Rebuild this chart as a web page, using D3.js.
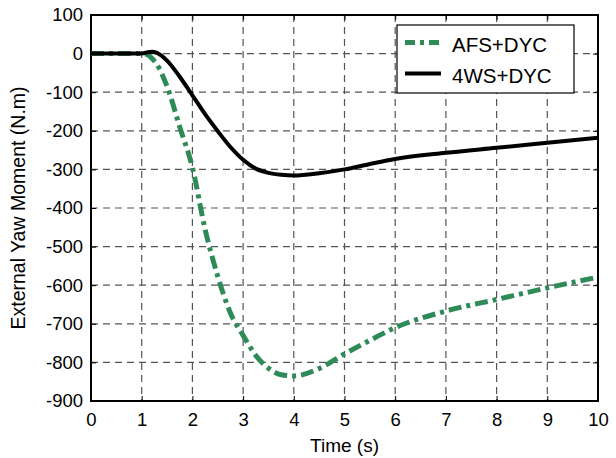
<!DOCTYPE html>
<html>
<head>
<meta charset="utf-8">
<script src="https://cdn.jsdelivr.net/npm/d3@7"></script>
<style>
  body { margin: 0; background: #fff; }
  text { font-family: "Liberation Sans", Arial, sans-serif; }
</style>
</head>
<body>
<svg id="chart"></svg>
<script>
const width = 616;
const height = 458;
const margin = { top: 15, right: 18, bottom: 57, left: 91 };

// values
const time = [0, 1, 1.1, 1.2, 1.3, 1.5, 1.75, 2, 2.25, 2.5, 2.75, 3, 3.25, 3.5, 3.75, 4, 4.5, 5, 5.5, 6, 7, 8, 9, 10];
const afsDyc = [0, 0, -2, -12, -28, -85, -190, -295, -455, -577, -672, -730, -782, -815, -832, -835, -816, -778, -743, -710, -667, -637, -607, -579];
const wsDyc = [0, 0, 3, 5, 2, -18, -60, -108, -157, -201, -242, -275, -298, -309, -314, -316, -310, -300, -286, -273, -257, -244, -231, -218];

const xTicks = d3.range(0, 11, 1);
const yTicks = d3.range(-900, 101, 100);

const series = [
    { name: "AFS+DYC", values: afsDyc, color: "#2e8b57", dash: "13,5,4,5", width: 5 },
    { name: "4WS+DYC", values: wsDyc, color: "#000", dash: null, width: 4 }
];

const svg = d3.select("#chart")
    .attr("width", width)
    .attr("height", height);

const x = d3.scaleLinear().domain([0, 10]).range([margin.left, width - margin.right]);
const y = d3.scaleLinear().domain([-900, 100]).range([height - margin.bottom, margin.top]);

// grid
svg.append("g")
    .selectAll("line")
    .data(xTicks.slice(1, -1))
    .enter().append("line")
    .attr("x1", d => x(d)).attr("x2", d => x(d))
    .attr("y1", y(100)).attr("y2", y(-900))
    .attr("stroke", "#555").attr("stroke-width", 1.2).attr("stroke-dasharray", "7,5");

svg.append("g")
    .selectAll("line")
    .data(yTicks.slice(1, -1))
    .enter().append("line")
    .attr("x1", x(0)).attr("x2", x(10))
    .attr("y1", d => y(d)).attr("y2", d => y(d))
    .attr("stroke", "#555").attr("stroke-width", 1.2).attr("stroke-dasharray", "7,5");

// axes, ticks inward
const fmt = d => String(d); // plain hyphen minus, like the original
svg.append("g")
    .attr("transform", `translate(0,${y(-900)})`)
    .call(d3.axisBottom(x).tickValues(xTicks).tickSize(-5).tickPadding(12).tickFormat(fmt));
svg.append("g")
    .attr("transform", `translate(${x(0)},0)`)
    .call(d3.axisLeft(y).tickValues(yTicks).tickSize(-5).tickPadding(8).tickFormat(fmt));
svg.append("g")
    .attr("transform", `translate(0,${y(100)})`)
    .call(d3.axisTop(x).tickValues(xTicks).tickSize(-5).tickFormat(""));
svg.append("g")
    .attr("transform", `translate(${x(10)},0)`)
    .call(d3.axisRight(y).tickValues(yTicks).tickSize(-5).tickFormat(""));

svg.selectAll(".domain").remove();
svg.selectAll(".tick line").attr("stroke", "#000").attr("stroke-width", 1);
svg.selectAll(".tick text").attr("font-size", 18.5).attr("fill", "#000")
    .style("font-family", "'Liberation Sans', Arial, sans-serif");

// frame
svg.append("rect")
    .attr("x", x(0)).attr("y", y(100))
    .attr("width", x(10) - x(0)).attr("height", y(-900) - y(100))
    .attr("fill", "none").attr("stroke", "#000").attr("stroke-width", 2);

// lines
const line = d3.line()
    .x((d, i) => x(time[i]))
    .y(d => y(d))
    .curve(d3.curveMonotoneX);

svg.append("g")
    .selectAll("path")
    .data(series)
    .enter().append("path")
    .attr("d", d => line(d.values))
    .attr("fill", "none")
    .attr("stroke", d => d.color)
    .attr("stroke-width", d => d.width)
    .attr("stroke-dasharray", d => d.dash)
    .attr("stroke-linejoin", "round");

// axis titles
svg.append("text")
    .attr("x", (x(0) + x(10)) / 2)
    .attr("y", 452)
    .attr("text-anchor", "middle")
    .attr("font-size", 19)
    .text("Time (s)");

svg.append("text")
    .attr("transform", `translate(25,${(y(100) + y(-900)) / 2}) rotate(-90)`)
    .attr("text-anchor", "middle")
    .attr("font-size", 19.5)
    .text("External Yaw Moment (N.m)");

// legend
const legend = svg.append("g").attr("transform", "translate(397,25)");
legend.append("rect")
    .attr("width", 177).attr("height", 68)
    .attr("fill", "#fff").attr("stroke", "#000").attr("stroke-width", 1.2);

const item = legend.selectAll(".item")
    .data(series)
    .enter().append("g")
    .attr("class", "item")
    .attr("transform", (d, i) => `translate(0,${17.5 + i * 31})`);

item.append("line")
    .attr("x1", 8).attr("x2", 44)
    .attr("stroke", d => d.color)
    .attr("stroke-width", d => d.width)
    .attr("stroke-dasharray", d => d.dash ? "10,5,4,5" : null);

item.append("text")
    .attr("x", 55)
    .attr("y", 9.5)
    .attr("font-size", 20.5)
    .text(d => d.name);
</script>
</body>
</html>
